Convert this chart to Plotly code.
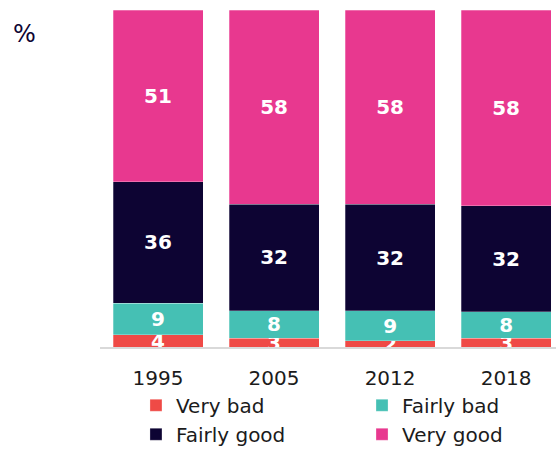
import plotly.graph_objects as go

years = ["1995", "2005", "2012", "2018"]
very_bad = [3.6, 2.6, 1.9, 2.6]
fairly_bad = [9.4, 8.2, 8.9, 7.8]
fairly_good = [36.1, 31.6, 31.5, 31.5]
very_good = [50.9, 57.6, 57.7, 58.1]

series = [
    ("Very bad", very_bad, "#EF4A46", "legend"),
    ("Fairly bad", fairly_bad, "#45C0B4", "legend2"),
    ("Fairly good", fairly_good, "#0D0433", "legend"),
    ("Very good", very_good, "#E8388F", "legend2"),
]

FONT = "DejaVu Sans"
TXT = "#1b1b1b"

fig = go.Figure()
for name, vals, col, lg in series:
    fig.add_trace(go.Bar(
        x=years, y=vals, name=name, legend=lg,
        marker=dict(color=col, line=dict(color="rgba(255,255,255,0.45)", width=0.6)),
        text=[str(int(v + 0.5)) for v in vals],
        textposition="inside",
        insidetextanchor="middle",
        constraintext="none",
        textangle=0,
        textfont=dict(family=FONT, size=20, color="white", weight="bold"),
        cliponaxis=True,
    ))

legend_common = dict(
    orientation="v", yanchor="top", xanchor="left",
    font=dict(family=FONT, size=20, color=TXT),
    tracegroupgap=0, traceorder="normal", bgcolor="rgba(0,0,0,0)",
)

fig.update_layout(
    barmode="stack",
    bargap=0.224,
    width=556, height=449,
    margin=dict(l=100, r=0, t=9.5, b=101.7, autoexpand=False),
    plot_bgcolor="white", paper_bgcolor="white",
    font=dict(family=FONT, size=20, color=TXT),
    showlegend=True,
    legend=dict(x=0.0789, y=-0.115, **legend_common),
    legend2=dict(x=0.5746, y=-0.115, **legend_common),
    xaxis=dict(
        range=[-0.5, 3.43], showline=True, linecolor="#d9d9d9", linewidth=2,
        ticks="outside", ticklen=12, tickcolor="rgba(0,0,0,0)",
        showgrid=False, zeroline=False,
        tickfont=dict(family=FONT, size=20, color=TXT),
    ),
    yaxis=dict(
        range=[0, 100], showticklabels=False, showgrid=False, zeroline=False,
        showline=False, ticks="",
    ),
    annotations=[dict(
        text="%", xref="paper", yref="paper", x=-0.1656, y=0.93,
        xanchor="center", yanchor="middle", showarrow=False,
        font=dict(family=FONT, size=24, color="#0D0433"),
    )],
)

fig.write_html(
    "out.html",
    config={"displayModeBar": False},
    post_script="document.body.style.margin='0';",
)
